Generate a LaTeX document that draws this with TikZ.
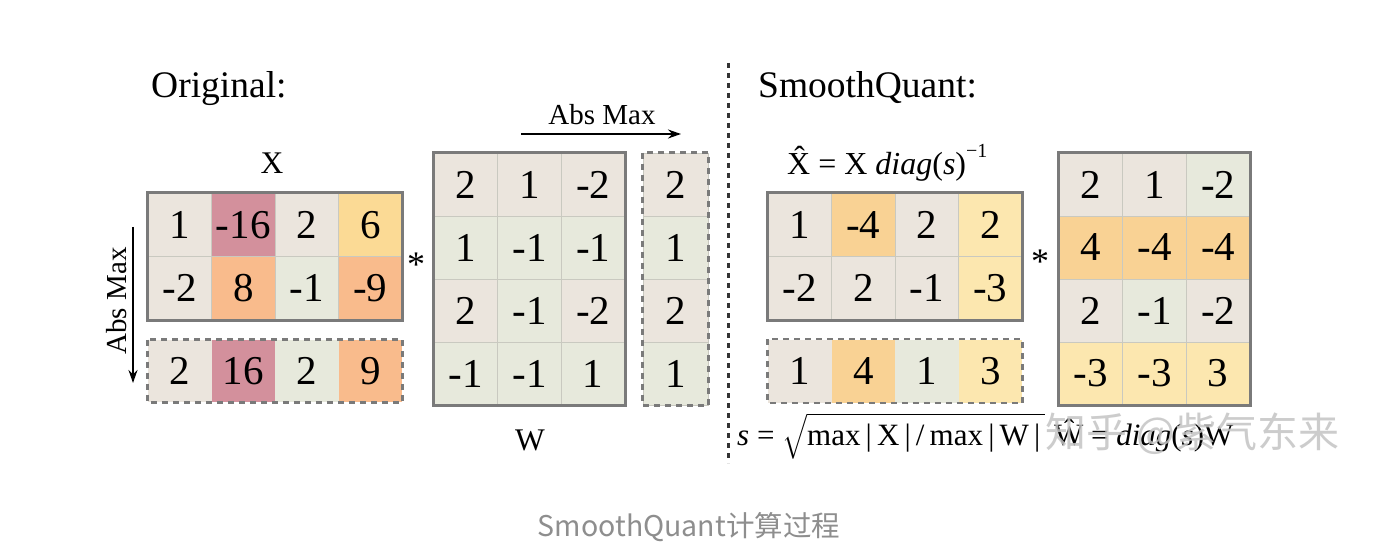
\documentclass[tikz,border=0pt]{standalone}
\usepackage{exscale}
\usepackage{fontspec}
\setmainfont{Liberation Serif}
\newfontfamily\cjkfont{Noto Sans CJK SC}
\usetikzlibrary{arrows.meta}
\definecolor{beige}{HTML}{EBE5DD}
\definecolor{greenc}{HTML}{E7E9DC}
\definecolor{mauve}{HTML}{D3909C}
\definecolor{orangec}{HTML}{F9BB8C}
\definecolor{yellowc}{HTML}{FBDA95}
\definecolor{sqorange}{HTML}{F9D294}
\definecolor{sqyellow}{HTML}{FCE7AF}
\definecolor{gridc}{HTML}{C9C9C0}
\definecolor{framec}{HTML}{7A7A7A}
\definecolor{captionc}{HTML}{8E8E8E}
\definecolor{wmark}{HTML}{C4C4C4}
\tikzset{
  cell/.style={draw=gridc, line width=0.8pt, minimum width=63.5pt, minimum height=63.5pt,
    inner sep=0pt, font=\fontsize{41}{46}\selectfont},
  wcell/.style={cell, minimum width=63.67pt, minimum height=63pt},
  frame/.style={draw=framec, line width=2.6pt},
  dframe/.style={draw=framec, line width=2.6pt, dash pattern=on 6pt off 5pt},
  title/.style={anchor=base west, inner sep=0pt, font=\fontsize{37.5}{42}\selectfont},
  lbl/.style={anchor=base, inner sep=0pt, font=\fontsize{31.5}{36}\selectfont},
  absl/.style={inner sep=0pt, font=\fontsize{29}{33}\selectfont},
  arr/.style={line width=2pt, -{Stealth[length=13pt,width=9pt]}},
  star/.style={inner sep=0pt, font=\fontsize{36}{40}\selectfont},
}
\newcommand{\vbarx}{\,|\,}
\begin{document}
\begin{tikzpicture}[x=1pt,y=-1pt]
\useasboundingbox[fill=white] (0,0) rectangle (1382,556);

% ---------------- Original ----------------
\node[title] (torig) at (151,98) {Original:};
\node[lbl] (lx) at (272,174) {X};

\foreach \v/\f [count=\c] in {1/beige,-16/mauve,2/beige,6/yellowc}
  \node[cell,fill=\f] (xa-1-\c) at ({148+(\c-0.5)*63.5},224.75) {\v};
\foreach \v/\f [count=\c] in {-2/beige,8/orangec,-1/greenc,-9/orangec}
  \node[cell,fill=\f] (xa-2-\c) at ({148+(\c-0.5)*63.5},288.25) {\v};
\draw[frame] (xa-1-1.north west) rectangle (xa-2-4.south east);

\foreach \v/\f [count=\c] in {2/beige,16/mauve,2/greenc,9/orangec}
  \node[cell,fill=\f,draw=none,minimum height=62pt] (xm-\c) at ({148+(\c-0.5)*63.5},371) {\v};
\draw[dframe] (xm-1.north west) rectangle (xm-4.south east);

\node[absl,rotate=90] (absv) at (117,301) {Abs Max};
\coordinate (av1) at (133,227);
\coordinate (av2) at (133,383);
\draw[arr] (av1) -- (av2);

\node[star] (st1) at (416,265) {*};

\foreach \v/\f [count=\c] in {2/beige,1/beige,-2/beige}
  \node[wcell,fill=\f] (wa-1-\c) at ({434+(\c-0.5)*63.67},184.5) {\v};
\foreach \v/\f [count=\c] in {1/greenc,-1/greenc,-1/greenc}
  \node[wcell,fill=\f] (wa-2-\c) at ({434+(\c-0.5)*63.67},247.5) {\v};
\foreach \v/\f [count=\c] in {2/beige,-1/greenc,-2/beige}
  \node[wcell,fill=\f] (wa-3-\c) at ({434+(\c-0.5)*63.67},310.5) {\v};
\foreach \v/\f [count=\c] in {-1/greenc,-1/greenc,1/greenc}
  \node[wcell,fill=\f] (wa-4-\c) at ({434+(\c-0.5)*63.67},373.5) {\v};
\draw[frame] (wa-1-1.north west) rectangle (wa-4-3.south east);
\node[lbl] (lw) at (530,450) {W};

\foreach \v/\f/\y [count=\r] in {2/beige/184.5,1/greenc/247.5,2/beige/310.5,1/greenc/373.5}
  \node[wcell,fill=\f,minimum width=65pt] (wm-\r) at (675.5,\y) {\v};
\draw[dframe] (wm-1.north west) rectangle (wm-4.south east);

\node[absl,anchor=base] (absh) at (602,125) {Abs Max};
\coordinate (ah1) at (521,134);
\coordinate (ah2) at (681,134);
\draw[arr] (ah1) -- (ah2);

% divider
\coordinate (d1) at (728,63);
\coordinate (d2) at (728,463);
\draw[line width=3pt, color=black!80, dash pattern=on 5pt off 5pt] (d1) -- (d2);

% ---------------- SmoothQuant ----------------
\node[title] (tsq) at (758,98) {SmoothQuant:};
\node[anchor=base west, inner sep=0pt, font=\fontsize{32}{36}\selectfont] (lxh) at (787,175)
  {\^X = X \textit{diag}(\textit{s})\raisebox{0.55em}{\fontsize{20}{22}\selectfont −1}};

\foreach \v/\f [count=\c] in {1/beige,-4/sqorange,2/beige,2/sqyellow}
  \node[cell,fill=\f] (xb-1-\c) at ({768+(\c-0.5)*63.5},224.75) {\v};
\foreach \v/\f [count=\c] in {-2/beige,2/beige,-1/beige,-3/sqyellow}
  \node[cell,fill=\f] (xb-2-\c) at ({768+(\c-0.5)*63.5},288.25) {\v};
\draw[frame] (xb-1-1.north west) rectangle (xb-2-4.south east);

\foreach \v/\f [count=\c] in {1/beige,4/sqorange,1/greenc,3/sqyellow}
  \node[cell,fill=\f,draw=none,minimum height=63pt] (sm-\c) at ({768+(\c-0.5)*63.5},371) {\v};
\draw[dframe] (sm-1.north west) rectangle (sm-4.south east);

\node[star] (st2) at (1040,262) {*};

\foreach \v/\f [count=\c] in {2/beige,1/beige,-2/greenc}
  \node[wcell,fill=\f] (wb-1-\c) at ({1059+(\c-0.5)*63.67},184.5) {\v};
\foreach \v/\f [count=\c] in {4/sqorange,-4/sqorange,-4/sqorange}
  \node[wcell,fill=\f] (wb-2-\c) at ({1059+(\c-0.5)*63.67},247.5) {\v};
\foreach \v/\f [count=\c] in {2/beige,-1/greenc,-2/beige}
  \node[wcell,fill=\f] (wb-3-\c) at ({1059+(\c-0.5)*63.67},310.5) {\v};
\foreach \v/\f [count=\c] in {-3/sqyellow,-3/sqyellow,3/sqyellow}
  \node[wcell,fill=\f] (wb-4-\c) at ({1059+(\c-0.5)*63.67},373.5) {\v};
\draw[frame] (wb-1-1.north west) rectangle (wb-4-3.south east);

\node[anchor=base west, inner sep=0pt, font=\fontsize{31}{35}\selectfont] (fs) at (737,445)
  {\textit{s} = $\sqrt{\mbox{max\vbarx X\vbarx/\,max\vbarx W\vbarx}}$\;\^W = \textit{diag}(\textit{s})W};

\node[anchor=west, inner sep=0pt, text=wmark, opacity=0.85,
  font=\cjkfont\fontsize{41}{46}\selectfont] (wm) at (1045,434) {知乎 @紫气东来};

\node[inner sep=0pt, text=captionc, font=\cjkfont\fontsize{28.5}{33}\selectfont] (cap) at (689,527)
  {SmoothQuant计算过程};
\end{tikzpicture}
\end{document}
